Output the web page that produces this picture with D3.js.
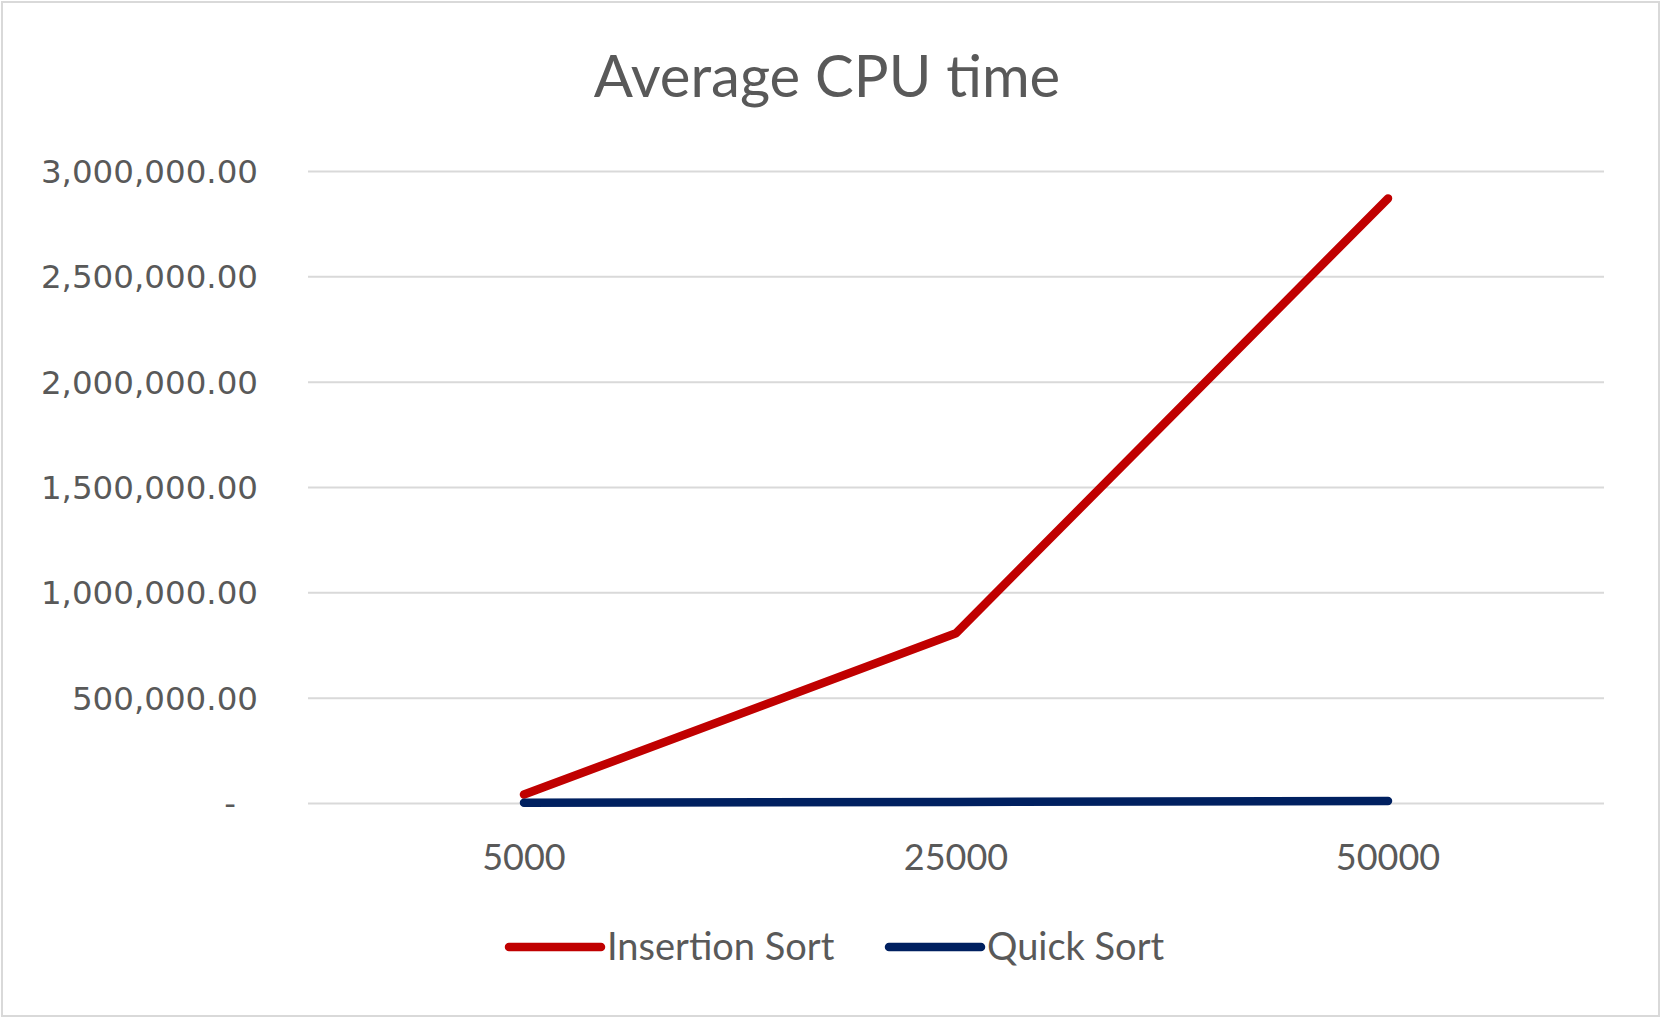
<!DOCTYPE html>
<html>
<head>
<meta charset="utf-8">
<script src="https://cdn.jsdelivr.net/npm/d3@7"></script>
<style>
  body { margin: 0; background: #fff; }
  svg { display: block; }
</style>
</head>
<body>
<div class="draw-area"></div>
<script>
// Chart data
const categories = ["5000", "25000", "50000"];
const insertionSort = [40000, 806000, 2870000];
const quickSort = [1000, 5000, 10000];
const yTicks = [0, 500000, 1000000, 1500000, 2000000, 2500000, 3000000];
const seriesNames = ["Insertion Sort", "Quick Sort"];
const seriesColors = ["#C00000", "#002060"];

const width = 1663, height = 1026;
const margin = { top: 171, right: 59, bottom: 223, left: 308 };

const svg = d3.select(".draw-area")
    .append("svg")
    .attr("width", width)
    .attr("height", height);

// Outer chart border
svg.append("rect")
    .attr("x", 2).attr("y", 2)
    .attr("width", width - 6).attr("height", height - 12)
    .attr("fill", "#fff")
    .attr("stroke", "#d9d9d9")
    .attr("stroke-width", 2);

// Scales
const x = d3.scaleBand()
    .domain(categories)
    .range([margin.left, width - margin.right]);

const y = d3.scaleLinear()
    .domain([0, 3000000])
    .range([height - margin.bottom, margin.top]);

const fmt = d => d === 0 ? "-" : d3.format(",.2f")(d);

// Gridlines + y labels via axis
const yAxis = svg.append("g")
    .attr("transform", `translate(${margin.left},0)`)
    .call(d3.axisLeft(y)
        .tickValues(yTicks)
        .tickSize(-(width - margin.left - margin.right))
        .tickPadding(50)
        .tickFormat(fmt));

yAxis.select(".domain").remove();
yAxis.selectAll(".tick line")
    .attr("stroke", "#d9d9d9")
    .attr("stroke-width", 2);
yAxis.selectAll(".tick text")
    .attr("fill", "#595959")
    .attr("font-family", "DejaVu Sans")
    .attr("font-size", 32.5)
    .attr("dy", "0.35em");
// dash label for zero sits a bit further in
yAxis.selectAll(".tick text").filter(d => d === 0).attr("dx", -22);

// X labels
const xAxis = svg.append("g")
    .attr("transform", `translate(0,${height - margin.bottom})`)
    .call(d3.axisBottom(x).tickSize(0).tickPadding(41));
xAxis.select(".domain").remove();
xAxis.selectAll(".tick text")
    .attr("fill", "#595959")
    .attr("font-family", "Lato")
    .attr("font-size", 36)
    .attr("dy", "0.71em");

// Lines
const line = d3.line()
    .x((d, i) => x(categories[i]) + x.bandwidth() / 2)
    .y(d => y(d));

[insertionSort, quickSort].forEach((vals, i) => {
    svg.append("path")
        .datum(vals)
        .attr("d", line)
        .attr("fill", "none")
        .attr("stroke", seriesColors[i])
        .attr("stroke-width", 8.5)
        .attr("stroke-linecap", "round")
        .attr("stroke-linejoin", "round");
});

// Title
svg.append("text")
    .attr("x", 827)
    .attr("y", 97)
    .attr("text-anchor", "middle")
    .attr("fill", "#595959")
    .attr("font-family", "Lato")
    .attr("font-size", 58)
    .text("Average CPU time");

// Legend
const legendX = [509, 889];
const legend = svg.append("g");
seriesNames.forEach((name, i) => {
    const g = legend.append("g").attr("transform", `translate(${legendX[i]},947)`);
    g.append("line")
        .attr("x1", 0).attr("x2", 92)
        .attr("stroke", seriesColors[i])
        .attr("stroke-width", 8.5)
        .attr("stroke-linecap", "round");
    g.append("text")
        .attr("x", 98)
        .attr("dy", "0.35em")
        .attr("fill", "#595959")
        .attr("font-family", "Lato")
        .attr("font-size", 38)
        .text(name);
});
</script>
</body>
</html>
